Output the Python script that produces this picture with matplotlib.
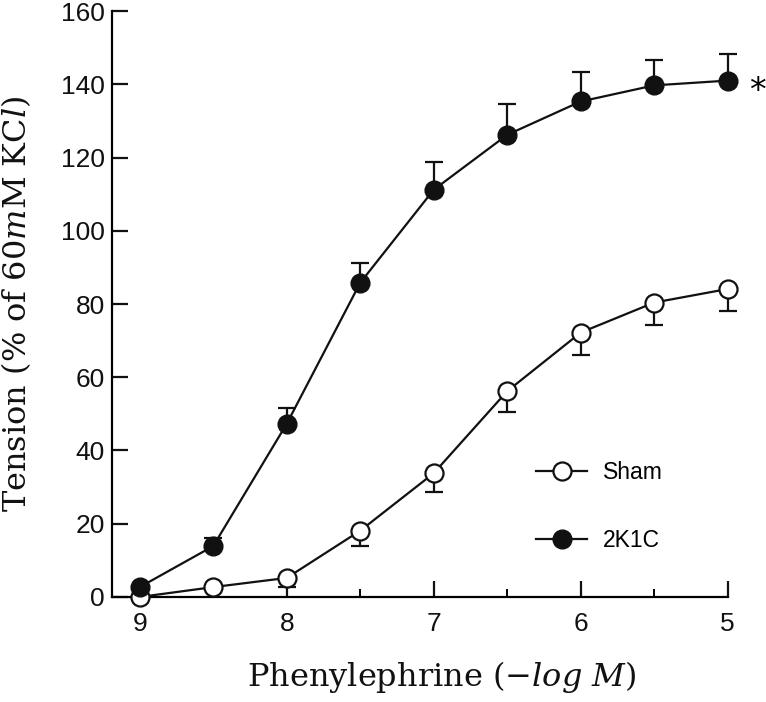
import matplotlib
matplotlib.use("Agg")
import matplotlib.pyplot as plt

# concentrations (-log M) and responses
conc = [9, 8.5, 8, 7.5, 7, 6.5, 6, 5.5, 5]
sham_mean = [0.0, 2.7, 5.2, 18.1, 33.8, 56.2, 72.2, 80.4, 84.1]
sham_err = [0.0, 0.0, 2.4, 4.1, 5.0, 5.6, 6.1, 6.2, 5.9]
k2c_mean = [2.7, 13.9, 47.3, 85.8, 111.2, 126.2, 135.3, 139.7, 141.0]
k2c_err = [0.0, 2.2, 4.4, 5.5, 7.5, 8.4, 8.1, 7.0, 7.2]

plt.rcParams['mathtext.fontset'] = 'dejavuserif'

fig = plt.figure(figsize=(7.66, 7.02), dpi=100)
ax = fig.add_axes([0.146, 0.1496, 0.804, 0.8347])

# error bars: sham downward, 2K1C upward
ax.errorbar(conc, sham_mean, yerr=[sham_err, [0] * len(conc)], fmt='none',
            ecolor='#111111', elinewidth=1.6, capsize=6.5, capthick=1.6, clip_on=False, zorder=2)
ax.errorbar(conc, k2c_mean, yerr=[[0] * len(conc), k2c_err], fmt='none',
            ecolor='#111111', elinewidth=1.6, capsize=6.5, capthick=1.6, clip_on=False, zorder=2)

ax.plot(conc, sham_mean, color='#111111', linewidth=1.6, marker='o', markersize=13,
        markerfacecolor='white', markeredgecolor='#111111', markeredgewidth=1.6,
        clip_on=False, zorder=3, label='Sham')
ax.plot(conc, k2c_mean, color='#111111', linewidth=1.6, marker='o', markersize=13.5,
        markerfacecolor='#111111', markeredgecolor='#111111',
        clip_on=False, zorder=4, label='2K1C')

ax.text(4.80, 138, '*', fontsize=24, fontfamily='DejaVu Sans', ha='center', va='center',
        clip_on=False)

ax.set_xlim(9.19, 5)
ax.set_ylim(0, 160)
ax.set_xticks([9, 8, 7, 6, 5])
ax.set_xticks([8.5, 7.5, 6.5, 5.5], minor=True)
ax.set_yticks(range(0, 161, 20))

ax.spines['top'].set_visible(False)
ax.spines['right'].set_visible(False)
ax.spines['left'].set_linewidth(1.6)
ax.spines['bottom'].set_linewidth(1.6)
ax.spines['left'].set_bounds(0, 160)

ax.tick_params(axis='both', which='major', direction='in', length=11.5, width=1.6,
               labelsize=19, pad=5, colors='#111111')
ax.tick_params(axis='x', which='minor', direction='in', length=6, width=1.4)
for lab in ax.get_xticklabels() + ax.get_yticklabels():
    lab.set_fontfamily('Liberation Sans')
ax.tick_params(axis='x', pad=11)

ax.set_xlabel(r'Phenylephrine ($-log\ M$)', fontfamily='DejaVu Serif', fontsize=23,
              color='#111111')
ax.xaxis.set_label_coords(0.536, -0.105)
ax.set_ylabel(r'Tension (% of 60$m$M KC$l$)', fontfamily='DejaVu Serif', fontsize=23,
              labelpad=20, color='#111111')

leg = ax.legend(loc='lower left', bbox_to_anchor=(0.656, 0.042), frameon=False,
                prop={'family': 'Liberation Sans', 'size': 16.5}, labelspacing=1.95,
                handlelength=2.2, handletextpad=0.7, markerscale=1.0)

fig.savefig('out.png', dpi=100)
